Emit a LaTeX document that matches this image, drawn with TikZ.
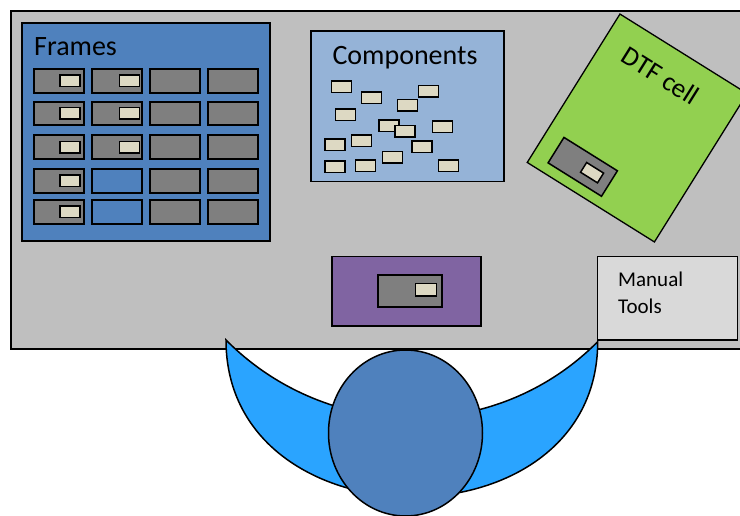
\documentclass[tikz,border=0pt]{standalone}
\usepackage{fontspec}
\setmainfont{Carlito}

\definecolor{tablegray}{HTML}{BFBFBF}
\definecolor{frameblue}{HTML}{4F81BD}
\definecolor{slotgray}{HTML}{7F7F7F}
\definecolor{cardbeige}{HTML}{DDD9C3}
\definecolor{compblue}{HTML}{95B3D7}
\definecolor{cellgreen}{HTML}{92D050}
\definecolor{stationpurple}{HTML}{8064A2}
\definecolor{toolsgray}{HTML}{D9D9D9}
\definecolor{armblue}{HTML}{2AA4FF}
\definecolor{headblue}{HTML}{4F81BD}

\tikzset{
  panel/.style={draw=black, line width=1.5pt},
  slotbox/.style={draw=black, fill=slotgray, line width=2pt, inner sep=0pt,
                  minimum width=50pt, minimum height=23.5pt},
  emptyslot/.style={slotbox, fill=frameblue},
  card/.style={draw=black, fill=cardbeige, line width=1.5pt, inner sep=0pt,
               minimum width=20pt, minimum height=11.5pt},
  bigtext/.style={font=\fontsize{28}{30}\selectfont, inner sep=0pt},
  tooltext/.style={font=\fontsize{21}{24}\selectfont, inner sep=0pt},
}

\begin{document}
\begin{tikzpicture}[x=1pt, y=-1pt, line join=miter]
\clip (0,0) rectangle (740,516);
\fill[white] (0,0) rectangle (740,516);

% work table
\draw[fill=tablegray, line width=2pt] (11,11) rectangle (760,349);

% frames rack
\draw[panel, fill=frameblue] (22,23) rectangle (270,241);
\node[bigtext, anchor=base west] (frameslabel) at (34,56) {Frames};
\foreach \c/\x in {0/59.3, 1/117.3, 2/175, 3/232.7}
  \foreach \r/\y in {0/80.8, 1/113.4, 2/147.2, 3/180.8, 4/212}
    \node[slotbox] (slot-\c-\r) at (\x,\y) {};
\node[emptyslot] (slot-1-3b) at (117.3,180.8) {};
\node[emptyslot] (slot-1-4b) at (117.3,212) {};
\foreach \r/\y in {0/80.8, 1/113.4, 2/147.2, 3/180.8, 4/212}
  \node[card] (fcard-0-\r) at (70,\y) {};
\foreach \r/\y in {0/80.8, 1/113.4, 2/147.2}
  \node[card] (fcard-1-\r) at (129.7,\y) {};

% loose components
\draw[panel, fill=compblue] (311,31) rectangle (504,181.5);
\node[bigtext, anchor=base] (complabel) at (405,65) {Components};
\foreach \i/\x/\y in {1/341.3/87, 2/371.3/97.8, 3/428.5/91.5, 4/407.5/105.2,
                      5/345.3/114.7, 6/388.8/125.8, 7/404.8/131.2, 8/442.5/127,
                      9/361.7/140.7, 10/334.8/144.7, 11/422.2/147, 12/392.7/157.2,
                      13/365.3/165.8, 14/335.2/166.8, 15/448.7/165.7}
  \node[card] (comp-\i) at (\x,\y) {};

% DTF cell, turned on the table
\begin{scope}[shift={(637.2,128)}, rotate=-32, transform shape]
  \draw[panel, fill=cellgreen, line width=1.3pt] (-75,-87.5) rectangle (75,87.5);
  \node[font=\fontsize{27}{29}\selectfont, inner sep=0pt] (dtflabel) at (-8,-57) {DTF cell};
  \node[slotbox, line width=1.5pt, minimum width=63pt, minimum height=30pt] (dtfframe) at (-25.6,61.8) {};
  \node[card] (dtfcard) at (-14.6,61.8) {};
\end{scope}

% assembly station
\draw[panel, fill=stationpurple] (332,256.7) rectangle (481,326);
\node[slotbox, minimum width=64.6pt, minimum height=32pt] (stationframe) at (410,291.3) {};
\node[card, minimum width=21pt, minimum height=12.3pt] (stationcard) at (426.2,289.9) {};

% manual tools
\draw[panel, fill=toolsgray] (597.5,256.7) rectangle (737.3,340);
\node[tooltext, anchor=base west] (toolsline1) at (618,286.7) {Manual};
\node[tooltext, anchor=base west] (toolsline2) at (618,313) {Tools};

% operator: arms and head
\draw[fill=armblue, line width=1.5pt]
  (226,340) .. controls (226,548) and (597.7,550) .. (597.7,341.7)
            .. controls (495.6,444.5) and (328.1,442.8) .. cycle;
\draw[fill=headblue, line width=1.5pt] (405.5,433) ellipse [x radius=77, y radius=83];
\end{tikzpicture}
\end{document}
